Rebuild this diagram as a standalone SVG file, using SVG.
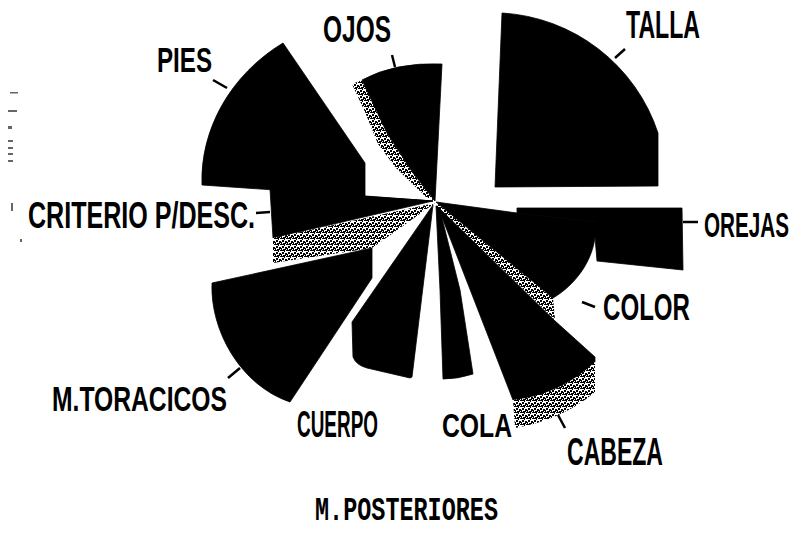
<svg xmlns="http://www.w3.org/2000/svg" width="804" height="533" viewBox="0 0 804 533">
<defs>
<pattern id="stip" width="6" height="6" patternUnits="userSpaceOnUse">
<rect width="6" height="6" fill="#fff"/>
<rect x="0" y="0" width="2" height="2" fill="#000"/>
<rect x="3" y="1" width="2" height="2" fill="#000"/>
<rect x="1" y="3" width="2" height="2" fill="#000"/>
<rect x="4" y="4" width="2" height="1" fill="#000"/>
<rect x="2" y="5" width="1" height="1" fill="#000"/>
<rect x="5" y="2" width="1" height="2" fill="#000"/>
<rect x="0" y="4" width="1" height="1" fill="#000"/>
<rect x="3" y="3" width="1" height="1" fill="#000"/>
</pattern>
</defs>
<style>
.blk{fill:#000;stroke:#000;stroke-width:0.8;stroke-linejoin:round}
.gry{fill:url(#stip);stroke:none}
.lbl{font-family:"Liberation Sans",Arial,sans-serif;font-weight:bold;fill:#000}
.ttl{font-family:"Liberation Mono","Courier New",monospace;font-weight:bold;fill:#000}
.ldr{stroke:#000;stroke-width:2.5;fill:none}
.spk{fill:#666}
</style>
<rect width="804" height="533" fill="#fff"/>

<g id="talla">
<path class="blk" d="M495,187 L502,13 A175,175 0 0 1 658,133 L658,186 Z"/>
<text class="lbl" x="626" y="38" font-size="38" textLength="74" lengthAdjust="spacingAndGlyphs">TALLA</text>
</g>

<g id="ojos">
<path class="gry" d="M352,84 L362,80 L387,133 L413,173 L435,201 L426,197 L396,168 L378,144 L365,112 Z"/>
<path class="blk" d="M362,80 Q395,62 442,64 L435,201 L413,173 L387,133 Z"/>
<text class="lbl" x="323" y="42" font-size="37" textLength="68" lengthAdjust="spacingAndGlyphs">OJOS</text>
</g>

<g id="pies">
<path class="blk" d="M202,185 C200,130 230,75 283,43 L365,163 L365,197 L433,201 Z"/>
<text class="lbl" x="157" y="72" font-size="35" textLength="55" lengthAdjust="spacingAndGlyphs">PIES</text>
</g>

<g id="criterio">
<path class="blk" d="M270,189 L433,201 L273,238 Z"/>
<path class="gry" d="M435,203 L273,238 L273,263 L372,248 Z"/>
<text class="lbl" x="28" y="228" font-size="37" textLength="227" lengthAdjust="spacingAndGlyphs">CRITERIO P/DESC.</text>
</g>

<g id="mtoracicos">
<path class="blk" d="M212,283 L372,248 L372,278 L290,402 C240,385 210,330 212,283 Z"/>
<text class="lbl" x="52" y="411" font-size="35" textLength="175" lengthAdjust="spacingAndGlyphs">M.TORACICOS</text>
</g>

<g id="cuerpo">
<path class="blk" d="M433,205 L352,322 L353,357 Q356,365 367,368 L410,378 L412,377 Z"/>
<text class="lbl" x="297" y="437" font-size="36" textLength="81" lengthAdjust="spacingAndGlyphs">CUERPO</text>
</g>

<g id="cola">
<path class="blk" d="M436,206 L440,290 L443,379 Q458,379 473,374 L460,290 L439,206 Z"/>
<text class="lbl" x="442" y="437" font-size="33" textLength="70" lengthAdjust="spacingAndGlyphs">COLA</text>
</g>

<g id="cabeza">
<path class="gry" d="M436,202 L553,298 L555,320 L438,207 Z"/>
<path class="blk" d="M438,207 L513,400 Q560,395 595,362 L595,357 L554,320 Z"/>
<path class="gry" d="M513,400 Q560,395 595,362 L595,392 Q562,420 515,428 Z"/>
<text class="lbl" x="567" y="465" font-size="38" textLength="96" lengthAdjust="spacingAndGlyphs">CABEZA</text>
</g>

<g id="color">
<path class="blk" d="M436,202 L517,213 L595,222 L595,237 C592,262 575,285 553,298 Z"/>
<text class="lbl" x="603" y="320" font-size="36" textLength="87" lengthAdjust="spacingAndGlyphs">COLOR</text>
</g>

<g id="orejas">
<path class="blk" d="M517,213 L517,208 L682,208 L683,270 L597,261 L595,237 L595,222 Z"/>
<text class="lbl" font-size="36" transform="translate(704,237) scale(0.575,1)">OREJAS</text>
</g>

<g id="title">
<text class="ttl" x="315" y="520" font-size="34" textLength="183" lengthAdjust="spacingAndGlyphs">M.POSTERIORES</text>
</g>

<g id="connectors">
<line class="ldr" x1="615" y1="58" x2="625" y2="49"/>
<line class="ldr" x1="392" y1="55" x2="395" y2="67"/>
<line class="ldr" x1="213" y1="80" x2="227" y2="88"/>
<line class="ldr" x1="256" y1="213" x2="270" y2="212"/>
<line class="ldr" x1="683" y1="222" x2="698" y2="222"/>
<line class="ldr" x1="582" y1="302" x2="595" y2="307"/>
<line class="ldr" x1="558" y1="415" x2="565" y2="428"/>
<line class="ldr" x1="228" y1="378" x2="240" y2="368"/>
</g>

<g id="margin-marks">
<rect class="spk" x="10" y="92" width="8" height="1.5"/>
<rect class="spk" x="8" y="110" width="9" height="2"/>
<rect class="spk" x="8" y="126" width="4" height="3"/>
<rect class="spk" x="8" y="140" width="5" height="2"/>
<rect class="spk" x="8" y="147" width="5" height="2"/>
<rect class="spk" x="8" y="153" width="5" height="2"/>
<rect class="spk" x="8" y="160" width="5" height="2"/>
<rect class="spk" x="11" y="203" width="2" height="8"/>
<rect class="spk" x="20" y="239" width="2" height="3"/>
</g>
</svg>
